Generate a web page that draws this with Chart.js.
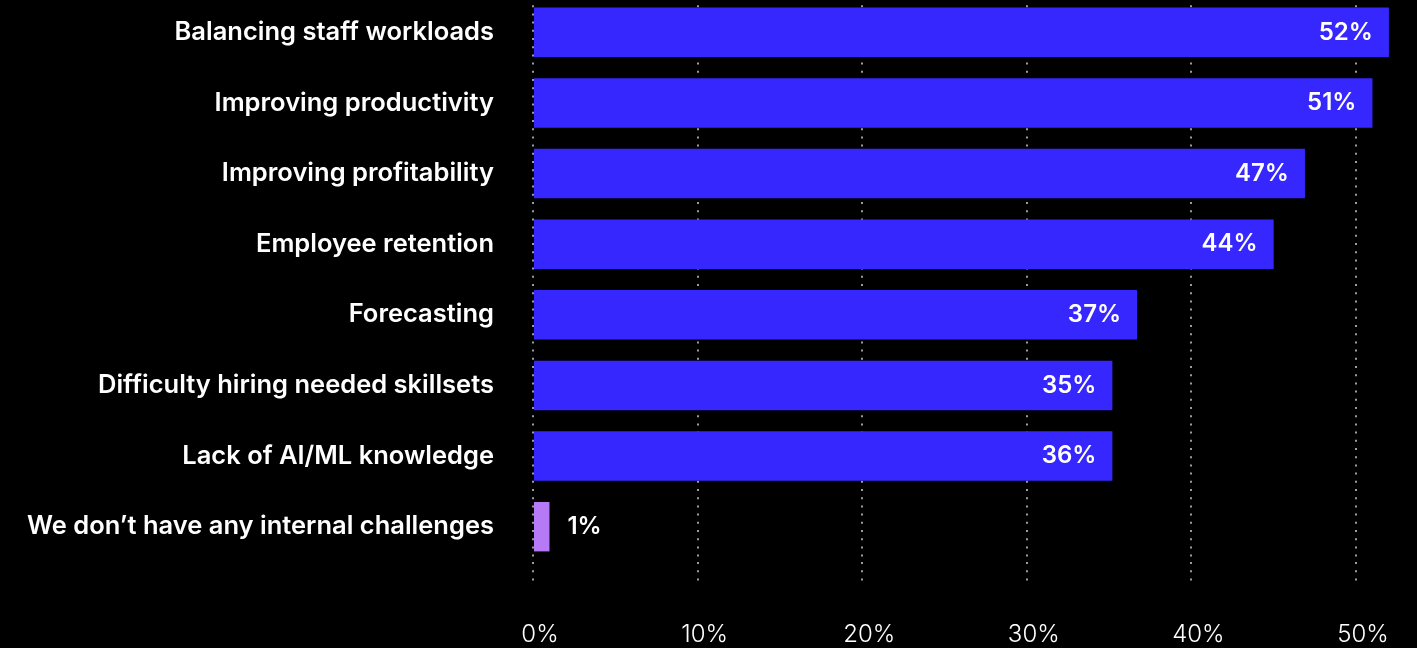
<!DOCTYPE html>
<html>
<head>
<meta charset="utf-8">
<script src="https://cdn.jsdelivr.net/npm/chart.js@4.4.1/dist/chart.umd.min.js"></script>
<style>
  html, body { margin: 0; padding: 0; background: #000; overflow: hidden; }
  .wrap { position: absolute; left: 0; top: -3px; width: 1417px; height: 651px; }
</style>
</head>
<body>
<div class="wrap"><canvas id="chart"></canvas></div>
<script>
const categories = [
  "Balancing staff workloads",
  "Improving productivity",
  "Improving profitability",
  "Employee retention",
  "Forecasting",
  "Difficulty hiring needed skillsets",
  "Lack of AI/ML knowledge",
  "We don\u2019t have any internal challenges",
];
// bar lengths as drawn, and the labels printed on them
const values = [52, 51, 46.9, 45, 36.7, 35.2, 35.2, 1];
const valueLabels = ["52%", "51%", "47%", "44%", "37%", "35%", "36%", "1%"];
const barColors = ["#3727ff", "#3727ff", "#3727ff", "#3727ff", "#3727ff", "#3727ff", "#3727ff", "#b67af6"];
const xTicks = [0, 10, 20, 30, 40, 50];

const valueLabelPlugin = {
  id: "valueLabels",
  afterDatasetsDraw(chart) {
    const ctx = chart.ctx;
    const meta = chart.getDatasetMeta(0);
    ctx.save();
    ctx.font = "600 24px Inter";
    ctx.fillStyle = "#fff";
    ctx.textBaseline = "middle";
    meta.data.forEach((bar, i) => {
      if (values[i] < 5) {
        ctx.textAlign = "left";
        ctx.fillText(valueLabels[i], bar.x + 18, bar.y);
      } else {
        ctx.textAlign = "right";
        ctx.fillText(valueLabels[i], bar.x - 16, bar.y);
      }
    });
    ctx.restore();
  },
};

new Chart(document.getElementById("chart"), {
  type: "bar",
  data: {
    labels: categories,
    datasets: [{
      data: values,
      backgroundColor: barColors,
      categoryPercentage: 1,
      barPercentage: 0.7,
    }],
  },
  options: {
    indexAxis: "y",
    responsive: true,
    maintainAspectRatio: false,
    animation: false,
    layout: { padding: { top: 0, right: 4, left: 0, bottom: 0 } },
    plugins: { legend: { display: false }, tooltip: { enabled: false } },
    scales: {
      x: {
        min: 0,
        max: 53.4,
        afterBuildTicks: (scale) => {
          scale.ticks = xTicks.map((v) => ({ value: v }));
        },
        afterFit: (scale) => { scale.height = 86; },
        border: { display: false, dash: [2, 6.2] },
        grid: {
          color: "#9c9c9c",
          lineWidth: 2,
          tickLength: 23,
          tickColor: "#9c9c9c",
          tickWidth: 2,
          tickBorderDash: [2, 6.2],
        },
        ticks: {
          color: "#fff",
          font: { family: "Inter", size: 24, weight: 300 },
          padding: 35,
          labelOffset: 7,
          maxRotation: 0,
          callback: (v) => v + "%",
        },
      },
      y: {
        afterFit: (scale) => {
          scale.width = 533;
          scale.paddingTop = 0;
          scale.paddingBottom = 0;
        },
        border: { display: false },
        grid: { display: false, drawTicks: false },
        ticks: {
          color: "#fff",
          font: { family: "Inter", size: 25.5, weight: 600 },
          padding: 39,
        },
      },
    },
  },
  plugins: [valueLabelPlugin],
});
</script>
</body>
</html>
